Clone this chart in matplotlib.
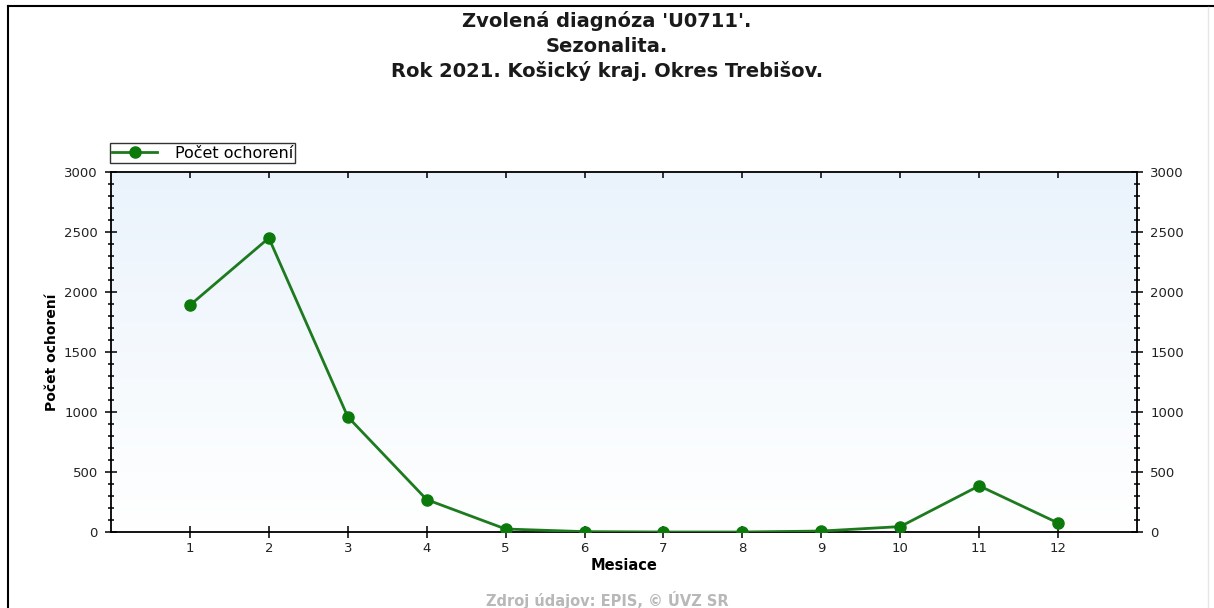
import numpy as np
import matplotlib.pyplot as plt
from matplotlib.ticker import MultipleLocator
from matplotlib.colors import LinearSegmentedColormap

plt.rcParams['font.family'] = ['DejaVu Sans']

# Data
mesiace = [1, 2, 3, 4, 5, 6, 7, 8, 9, 10, 11, 12]
pocet = [1890, 2450, 960, 270, 25, 3, 0, 0, 8, 45, 385, 75]

title_lines = ["Zvolená diagnóza 'U0711'.", "Sezonalita.", "Rok 2021. Košický kraj. Okres Trebišov."]

fig = plt.figure(figsize=(12.14, 6.08), dpi=100)
W, H = 1214, 608

# outer frame
fig.add_artist(plt.Line2D([8 / W, 1], [1 - 6 / H, 1 - 6 / H], color='black', lw=1.5))
fig.add_artist(plt.Line2D([8 / W, 8 / W], [0, 1 - 6 / H], color='black', lw=1.5))
fig.add_artist(plt.Line2D([1208 / W, 1208 / W], [0, 1 - 7 / H], color='#e6e6e6', lw=1))

ax = fig.add_axes([111 / W, 76 / H, (1137 - 111) / W, (532 - 172) / H])

# gradient background
grad = np.linspace(0, 1, 256).reshape(-1, 1)
cmap = LinearSegmentedColormap.from_list('bg', ['#ffffff', '#eaf3fc'])
ax.imshow(grad, extent=[0, 13, 0, 3000], aspect='auto', cmap=cmap, origin='lower', zorder=0)

ax.plot(mesiace, pocet, color='#1e7a1e', lw=2, marker='o', markersize=8,
        markerfacecolor='#0b7a0b', markeredgecolor='#0b7a0b', label='Počet ochorení', zorder=3)

ax.set_xlim(0, 13)
ax.set_ylim(0, 3000)
ax.set_xticks(mesiace)
ax.yaxis.set_major_locator(MultipleLocator(500))
ax.yaxis.set_minor_locator(MultipleLocator(100))

ax.tick_params(axis='y', which='major', direction='inout', length=9, width=1.1, right=True,
               labelright=True, labelsize=9.5, labelcolor='#222222', pad=5)
ax.tick_params(axis='y', which='minor', direction='inout', length=5, width=1.1, right=True)
ax.tick_params(axis='x', which='major', direction='inout', length=8, width=1.1, top=False,
               labelsize=9.5, labelcolor='#222222', pad=3)

top = ax.secondary_xaxis('top')
top.set_xticks(mesiace)
top.tick_params(direction='in', length=4, width=1.1, labeltop=False)
top.spines['top'].set_visible(False)

for s in ax.spines.values():
    s.set_linewidth(1.3)

ax.set_xlabel('Mesiace', fontsize=10.5, fontweight='bold', labelpad=2)
ax.set_ylabel('Počet ochorení', fontsize=10, fontweight='bold', labelpad=4)

for i, t in enumerate(title_lines):
    fig.text(0.5, 1 - (21 + 25 * i) / H, t, ha='center', va='center', fontsize=14,
             fontweight='bold', color='#1a1a1a')

fig.text(0.5, 1 - 600 / H, 'Zdroj údajov: EPIS, © ÚVZ SR', ha='center', va='center',
         fontsize=10.5, fontweight='bold', color='#b8b8b8')

leg = ax.legend(loc='lower left', bbox_to_anchor=(-0.001, 1.025), fontsize=11.5, frameon=True,
                fancybox=False, edgecolor='black', borderpad=0.15, handlelength=2.8,
                handletextpad=1.1, borderaxespad=0)
leg.get_frame().set_linewidth(1)

fig.savefig('out.png', dpi=100)
